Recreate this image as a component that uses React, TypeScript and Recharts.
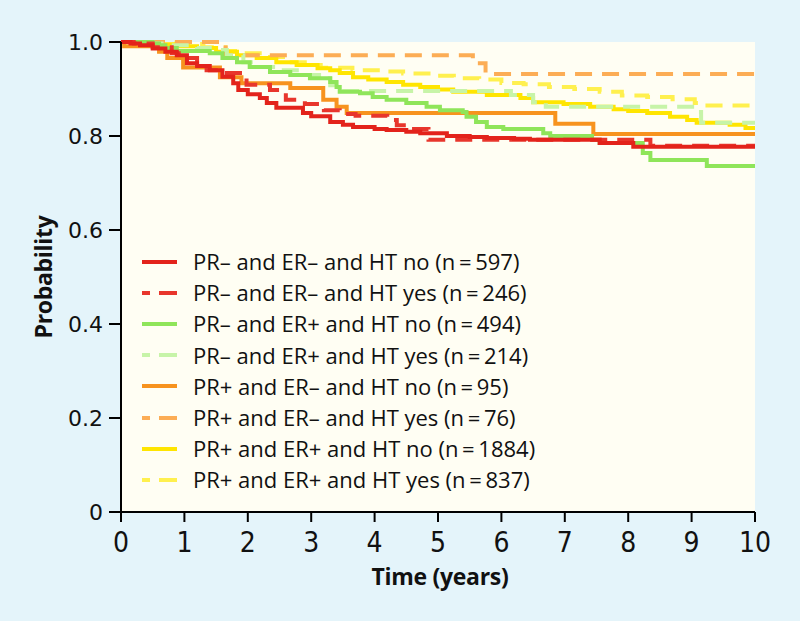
import React from 'react';
import { LineChart, Line, XAxis, YAxis, CartesianGrid, Legend } from 'recharts';

// ---------- data ----------
const timeTicks = [0, 1, 2, 3, 4, 5, 6, 7, 8, 9, 10];
const probTicks = [0, 0.2, 0.4, 0.6, 0.8, 1.0];

// [time (years), survival probability]
const prNegErNegHtNo: [number, number][] = [
  [0, 1], [0.15, 0.997], [0.3, 0.993], [0.5, 0.986], [0.7, 0.979], [0.88, 0.972], [1.04, 0.955],
  [1.2, 0.949], [1.4, 0.94], [1.6, 0.926], [1.77, 0.912], [1.85, 0.898], [2.0, 0.889], [2.19, 0.881],
  [2.3, 0.87], [2.45, 0.86], [2.87, 0.849], [3.0, 0.842], [3.3, 0.83], [3.5, 0.824], [3.66, 0.819],
  [4.0, 0.815], [4.19, 0.813], [4.5, 0.809], [4.72, 0.806], [5.14, 0.8], [5.5, 0.798], [5.77, 0.796],
  [6.2, 0.794], [6.45, 0.792], [7.55, 0.785], [8.08, 0.777], [10, 0.777],
];
const prNegErNegHtYes: [number, number][] = [
  [0, 1], [0.2, 0.997], [0.5, 0.989], [0.8, 0.976], [1.0, 0.966], [1.2, 0.954], [1.35, 0.94],
  [1.6, 0.934], [1.98, 0.909], [2.35, 0.898], [2.6, 0.877], [2.9, 0.868], [3.2, 0.855], [3.45, 0.847],
  [3.7, 0.843], [4.2, 0.834], [4.35, 0.823], [4.5, 0.815], [4.85, 0.792], [8.35, 0.779], [10, 0.779],
];
const prNegErPosHtNo: [number, number][] = [
  [0, 1], [0.5, 0.997], [0.6, 0.993], [0.7, 0.987], [0.88, 0.981], [1.4, 0.976], [1.6, 0.966],
  [1.83, 0.957], [2.03, 0.947], [2.35, 0.936], [2.67, 0.93], [2.98, 0.923], [3.3, 0.915], [3.4, 0.904],
  [3.45, 0.894], [3.77, 0.891], [3.97, 0.883], [4.19, 0.877], [4.5, 0.87], [4.82, 0.862], [5.03, 0.855],
  [5.39, 0.851], [5.45, 0.841], [5.6, 0.83], [5.77, 0.819], [6.03, 0.815], [6.66, 0.806], [6.77, 0.8],
  [7.43, 0.792], [7.55, 0.785], [8.23, 0.764], [8.35, 0.749], [9.24, 0.736], [10, 0.736],
];
const prNegErPosHtYes: [number, number][] = [
  [0, 1], [0.5, 0.997], [0.8, 0.993], [1.2, 0.987], [1.4, 0.983], [1.67, 0.972], [1.93, 0.957],
  [2.14, 0.947], [2.45, 0.94], [2.87, 0.93], [3.2, 0.923], [3.3, 0.908], [3.45, 0.896], [6.15, 0.887],
  [6.5, 0.872], [6.7, 0.862], [9.1, 0.851], [9.15, 0.828], [10, 0.828],
];
const prPosErNegHtNo: [number, number][] = [
  [0, 1], [0.05, 0.991], [0.6, 0.979], [0.73, 0.966], [0.98, 0.946], [1.56, 0.925], [1.9, 0.912],
  [2.67, 0.902], [3.19, 0.877], [3.4, 0.862], [3.56, 0.849], [6.85, 0.826], [7.45, 0.804], [10, 0.804],
];
const prPosErNegHtYes: [number, number][] = [
  [0, 1], [1.65, 0.972], [5.55, 0.955], [5.75, 0.932], [10, 0.932],
];
const prPosErPosHtNo: [number, number][] = [
  [0, 1], [0.4, 0.997], [0.6, 0.995], [0.88, 0.991], [1.2, 0.987], [1.5, 0.979], [1.83, 0.972],
  [2.14, 0.966], [2.45, 0.957], [2.77, 0.951], [3.1, 0.944], [3.3, 0.94], [3.45, 0.934], [3.66, 0.925],
  [3.9, 0.92], [4.19, 0.915], [4.45, 0.909], [4.72, 0.904], [5.0, 0.899], [5.24, 0.894], [5.77, 0.887],
  [6.3, 0.881], [6.5, 0.872], [6.98, 0.868], [7.4, 0.862], [7.77, 0.857], [8.0, 0.853], [8.3, 0.849],
  [8.66, 0.841], [8.93, 0.834], [9.08, 0.828], [9.6, 0.824], [9.85, 0.817], [10, 0.817],
];
const prPosErPosHtYes: [number, number][] = [
  [0, 1], [0.5, 0.999], [0.9, 0.996], [1.3, 0.989], [1.65, 0.981], [1.95, 0.976], [2.35, 0.968],
  [2.65, 0.957], [2.95, 0.951], [3.15, 0.945], [3.65, 0.94], [4.1, 0.937], [4.45, 0.933], [4.85, 0.928],
  [5.25, 0.923], [5.65, 0.92], [6.0, 0.913], [6.35, 0.91], [6.75, 0.904], [7.15, 0.9], [7.55, 0.894],
  [7.9, 0.886], [8.3, 0.883], [8.7, 0.878], [9.05, 0.87], [9.25, 0.865], [10, 0.865],
];

const seriesNames = [
  'PR\u2013 and ER\u2013 and HT no (n\u2009=\u2009597)',
  'PR\u2013 and ER\u2013 and HT yes (n\u2009=\u2009246)',
  'PR\u2013 and ER+ and HT no (n\u2009=\u2009494)',
  'PR\u2013 and ER+ and HT yes (n\u2009=\u2009214)',
  'PR+ and ER\u2013 and HT no (n\u2009=\u200995)',
  'PR+ and ER\u2013 and HT yes (n\u2009=\u200976)',
  'PR+ and ER+ and HT no (n\u2009=\u20091884)',
  'PR+ and ER+ and HT yes (n\u2009=\u2009837)',
];
const seriesData = [
  prNegErNegHtNo, prNegErNegHtYes, prNegErPosHtNo, prNegErPosHtYes,
  prPosErNegHtNo, prPosErNegHtYes, prPosErPosHtNo, prPosErPosHtYes,
];

// ---------- styles ----------
const seriesColors = ['#e3231b', '#e8362c', '#8fe55a', '#c7f4a8', '#f7931e', '#fcad55', '#ffe500', '#fff04e'];
const seriesDashed = [false, true, false, true, false, true, false, true];
const DASH = '17 10';

const series = seriesNames.map((name, i) => ({
  name,
  color: seriesColors[i],
  dashed: seriesDashed[i],
  data: seriesData[i].map(([t, p]) => ({ t, p })),
}));

const LegendBox = () => (
  <div style={{ fontFamily: "'Open Sans', sans-serif", fontSize: 22, color: '#111' }}>
    {series.map((s) => (
      <div key={s.name} style={{ display: 'flex', alignItems: 'center', height: 31.2 }}>
        <svg width={53} height={10} style={{ flex: 'none' }}>
          <line
            x1={2}
            x2={37}
            y1={5}
            y2={5}
            stroke={s.color}
            strokeWidth={4}
            strokeDasharray={s.dashed ? '8 9 18 0' : undefined}
          />
        </svg>
        <span style={{ whiteSpace: 'nowrap', lineHeight: '31px' }}>{s.name}</span>
      </div>
    ))}
  </div>
);

const fmtProb = (v: number) => (v === 0 ? '0' : v.toFixed(1));

export default function App() {
  return (
    <div style={{ position: 'absolute', left: 0, top: 0, width: 800, height: 621, background: '#e4f4fa' }}>
      <LineChart width={800} height={621} margin={{ top: 42, right: 45, bottom: 39, left: 0 }}>
        <CartesianGrid horizontal={false} vertical={false} fill="#fffef3" stroke="none" />
        <XAxis
          dataKey="t"
          type="number"
          domain={[0, 10]}
          ticks={timeTicks}
          interval={0}
          height={70}
          tickSize={10}
          tickMargin={10}
          axisLine={{ stroke: '#000', strokeWidth: 2 }}
          tickLine={{ stroke: '#000', strokeWidth: 2 }}
          tick={{ fontSize: 28, fontFamily: "'Liberation Sans Narrow', 'DejaVu Sans Condensed', sans-serif", fill: '#111' }}
          label={{
            content: (props: any) => {
              const vb = props.viewBox || {};
              return (
                <text
                  x={vb.x + vb.width / 2 + 2}
                  y={vb.y + 73}
                  textAnchor="middle"
                  fontFamily="'Open Sans', sans-serif"
                  fontWeight="bold"
                  fontSize={23}
                  letterSpacing={-0.3}
                  fill="#111"
                >
                  Time (years)
                </text>
              );
            },
          }}
        />
        <YAxis
          type="number"
          domain={[0, 1]}
          ticks={probTicks}
          interval={0}
          width={121}
          tickSize={12}
          tickMargin={6}
          tickFormatter={fmtProb}
          axisLine={{ stroke: '#000', strokeWidth: 2 }}
          tickLine={{ stroke: '#000', strokeWidth: 2 }}
          tick={{ fontSize: 22, fontFamily: "'DejaVu Sans', sans-serif", fill: '#111' }}
          label={{
            content: (props: any) => {
              const vb = props.viewBox || {};
              const cx = 52;
              const cy = vb.y + vb.height / 2;
              return (
                <text
                  x={cx}
                  y={cy}
                  transform={`rotate(-90 ${cx} ${cy})`}
                  textAnchor="middle"
                  fontFamily="'Open Sans', sans-serif"
                  fontWeight="bold"
                  fontSize={23}
                  letterSpacing={-0.3}
                  fill="#111"
                >
                  Probability
                </text>
              );
            },
          }}
        />
        <Legend
          layout="vertical"
          align="center"
          verticalAlign="middle"
          content={() => <LegendBox />}
          wrapperStyle={{ position: 'absolute', left: 140, top: 246, width: 460, height: 250 }}
        />
        {[...series].reverse().map((s) => (
          <Line
            key={s.name}
            name={s.name}
            data={s.data}
            dataKey="p"
            type="stepAfter"
            stroke={s.color}
            strokeWidth={4}
            strokeDasharray={s.dashed ? DASH : undefined}
            dot={false}
            activeDot={false}
            isAnimationActive={false}
          />
        ))}
      </LineChart>
    </div>
  );
}
